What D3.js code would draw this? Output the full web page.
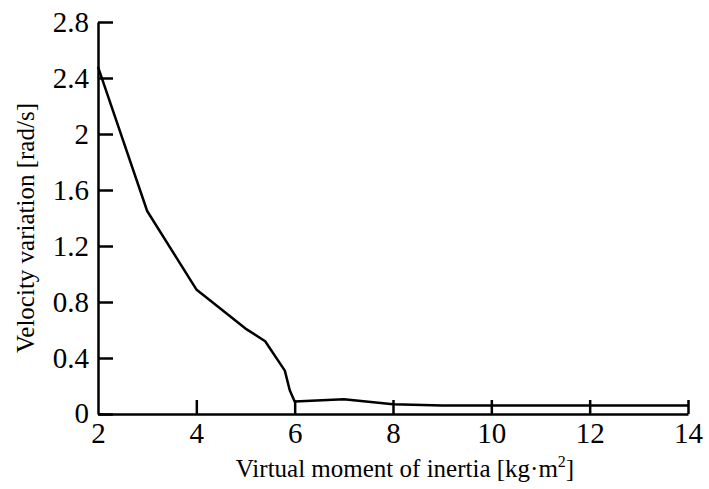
<!DOCTYPE html>
<meta charset="utf-8">
<style>
    body { margin: 0; background: #fff; }
    svg { display: block; }
    text { font-family: "Liberation Serif", "Times New Roman", serif; fill: #000; }
    .tick text { font-size: 29px; }
    .title { font-size: 25px; }
</style>
<svg width="709" height="489"></svg>
<script src="https://d3js.org/d3.v7.min.js"></script>
<script>
    var inertia = [2, 3, 4, 5, 5.4, 5.8, 5.9, 6, 7, 8, 9, 10, 11, 12, 13, 14];
    var velocity = [2.48, 1.45, 0.89, 0.61, 0.52, 0.31, 0.17, 0.09, 0.105, 0.07, 0.06, 0.06, 0.06, 0.06, 0.06, 0.06];
    var xTicks = [2, 4, 6, 8, 10, 12, 14];
    var yTicks = [0, 0.4, 0.8, 1.2, 1.6, 2, 2.4, 2.8];

    var svg = d3.select("svg"),
        mLeft = 98, mRight = 688, mTop = 22, mBottom = 414;

    var x = d3.scaleLinear().domain([2, 14]).range([mLeft, mRight]);
    var y = d3.scaleLinear().domain([0, 2.8]).range([mBottom, mTop]);

    var data = inertia.map(function(d, i) { return [d, velocity[i]]; });

    // x axis, ticks pointing inward
    var gx = svg.append("g")
        .attr("transform", "translate(0," + mBottom + ")")
        .call(d3.axisBottom(x).tickValues(xTicks).tickSize(-14).tickSizeOuter(0).tickPadding(8)
            .tickFormat(d3.format("")));

    var gy = svg.append("g")
        .attr("transform", "translate(" + mLeft + ",0)")
        .call(d3.axisLeft(y).tickValues(yTicks).tickSize(-15).tickSizeOuter(0).tickPadding(9)
            .tickFormat(function(d) { return d3.format("")(+d.toFixed(1)); }));

    [gx, gy].forEach(function(g) {
        g.select(".domain").attr("stroke", "#000").attr("stroke-width", 2.5);
        g.selectAll(".tick line").attr("stroke", "#000").attr("stroke-width", 2.5);
        g.selectAll(".tick text").attr("fill", "#000");
    });
    gx.selectAll(".tick text").attr("dy", "0.72em");
    // the "0" sits a little lower, as in the source figure
    gy.selectAll(".tick text").filter(function(d) { return d === 0; }).attr("dy", "0.3em");
    gx.selectAll(".tick line").filter(function(d) { return d === 2; }).remove();

    svg.append("path")
        .datum(data)
        .attr("fill", "none")
        .attr("stroke", "#000")
        .attr("stroke-width", 2.5)
        .attr("stroke-linejoin", "round")
        .attr("d", d3.line().x(function(d) { return x(d[0]); }).y(function(d) { return y(d[1]); }));

    var xt = svg.append("text")
        .attr("class", "title")
        .attr("x", 405)
        .attr("y", 477)
        .attr("text-anchor", "middle");
    xt.append("tspan").text("Virtual moment of inertia [kg\u00b7m");
    xt.append("tspan").attr("dy", -10).attr("font-size", 16).text("2");
    xt.append("tspan").attr("dy", 10).text("]");

    svg.append("text")
        .attr("class", "title")
        .attr("transform", "translate(34,228) rotate(-90)")
        .attr("text-anchor", "middle")
        .text("Velocity variation [rad/s]");
</script>
